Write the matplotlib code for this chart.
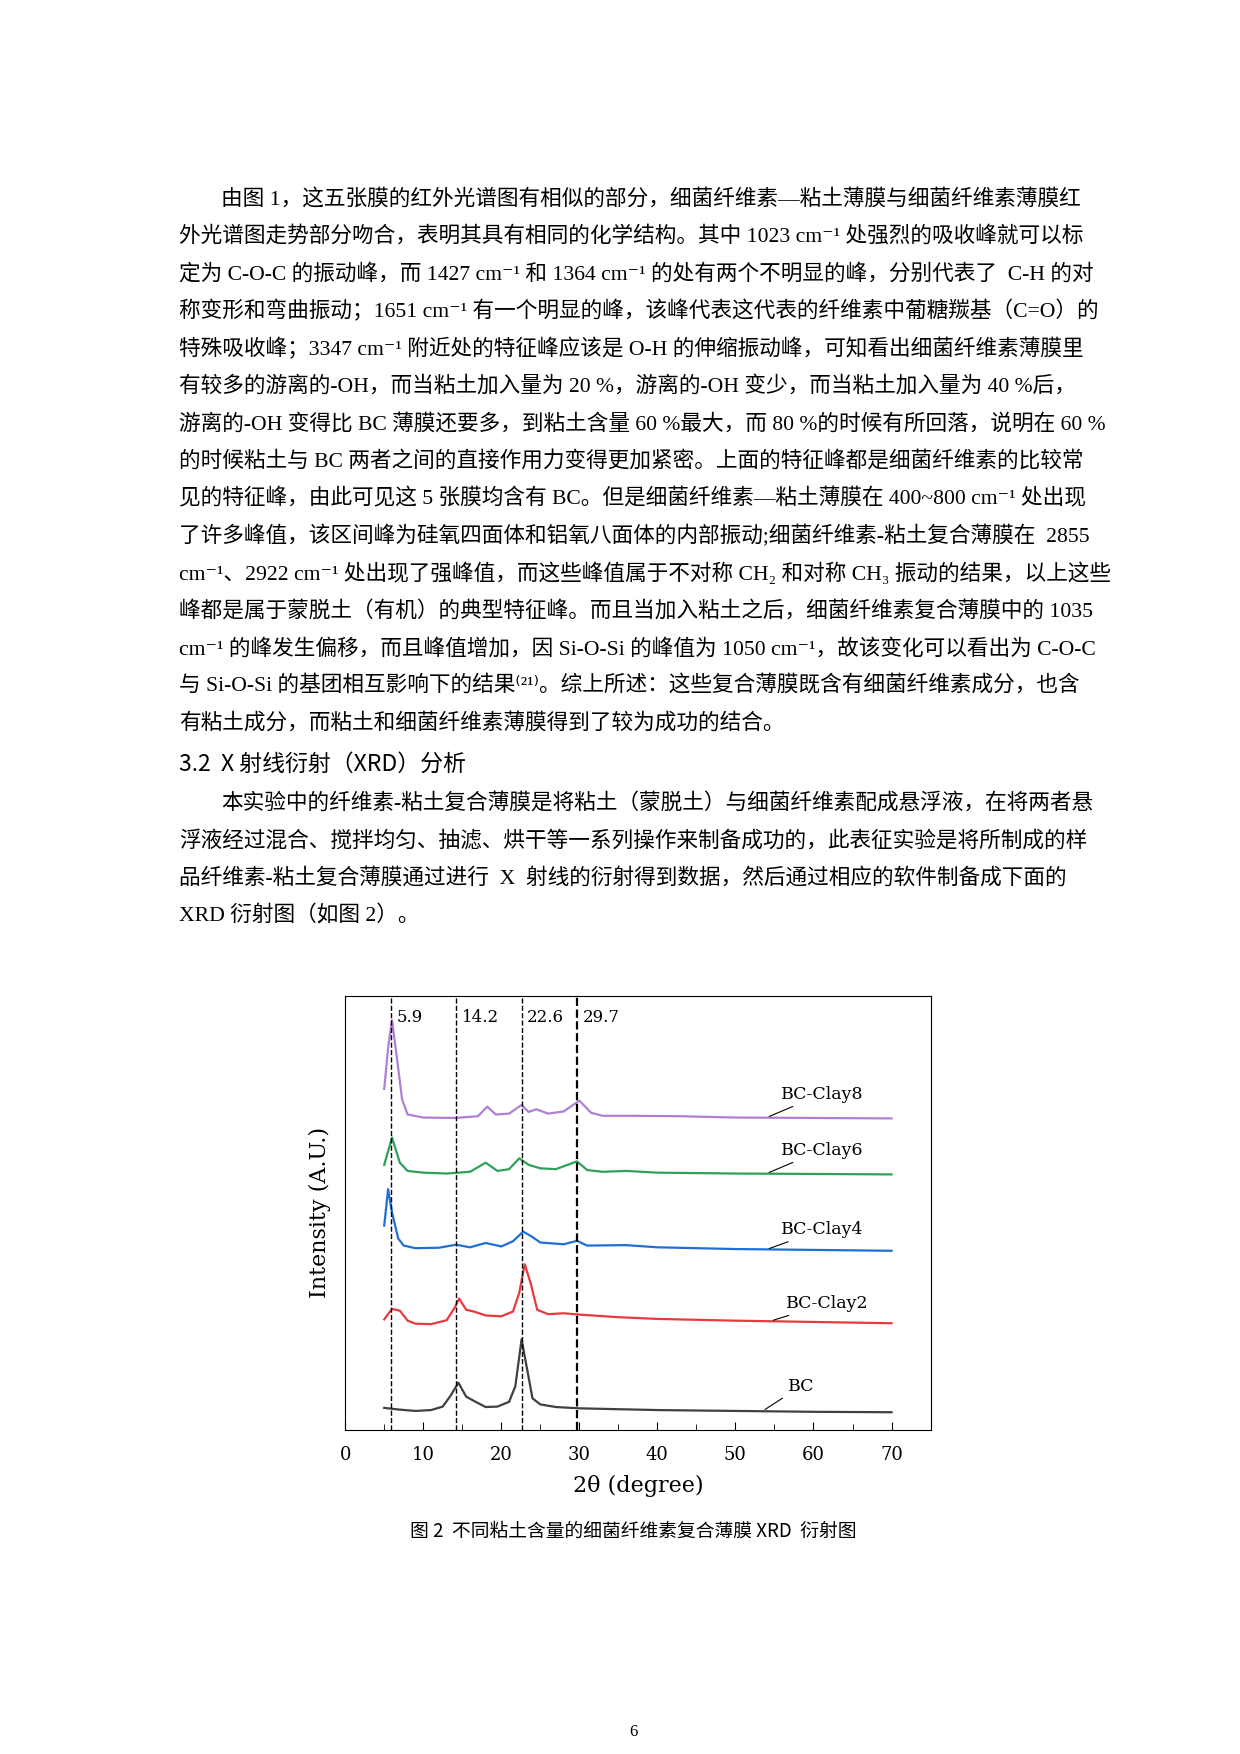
import matplotlib.pyplot as plt

plt.rcParams['font.family'] = ['Liberation Serif', 'Noto Sans CJK SC', 'DejaVu Sans']

# ---- page text ----
body_lines = [
    (True, "由图 1，这五张膜的红外光谱图有相似的部分，细菌纤维素—粘土薄膜与细菌纤维素薄膜红"),
    (False, "外光谱图走势部分吻合，表明其具有相同的化学结构。其中 1023 cm⁻¹ 处强烈的吸收峰就可以标"),
    (False, "定为 C-O-C 的振动峰，而 1427 cm⁻¹ 和 1364 cm⁻¹ 的处有两个不明显的峰，分别代表了  C-H 的对"),
    (False, "称变形和弯曲振动；1651 cm⁻¹ 有一个明显的峰，该峰代表这代表的纤维素中葡糖羰基（C=O）的"),
    (False, "特殊吸收峰；3347 cm⁻¹ 附近处的特征峰应该是 O-H 的伸缩振动峰，可知看出细菌纤维素薄膜里"),
    (False, "有较多的游离的-OH，而当粘土加入量为 20 %，游离的-OH 变少，而当粘土加入量为 40 %后，"),
    (False, "游离的-OH 变得比 BC 薄膜还要多，到粘土含量 60 %最大，而 80 %的时候有所回落，说明在 60 %"),
    (False, "的时候粘土与 BC 两者之间的直接作用力变得更加紧密。上面的特征峰都是细菌纤维素的比较常"),
    (False, "见的特征峰，由此可见这 5 张膜均含有 BC。但是细菌纤维素—粘土薄膜在 400~800 cm⁻¹ 处出现"),
    (False, "了许多峰值，该区间峰为硅氧四面体和铝氧八面体的内部振动;细菌纤维素-粘土复合薄膜在  2855"),
    (False, "cm⁻¹、2922 cm⁻¹ 处出现了强峰值，而这些峰值属于不对称 CH₂ 和对称 CH₃ 振动的结果，以上这些"),
    (False, "峰都是属于蒙脱土（有机）的典型特征峰。而且当加入粘土之后，细菌纤维素复合薄膜中的 1035"),
    (False, "cm⁻¹ 的峰发生偏移，而且峰值增加，因 Si-O-Si 的峰值为 1050 cm⁻¹，故该变化可以看出为 C-O-C"),
    (False, "与 Si-O-Si 的基团相互影响下的结果⁽²¹⁾。综上所述：这些复合薄膜既含有细菌纤维素成分，也含"),
    (False, "有粘土成分，而粘土和细菌纤维素薄膜得到了较为成功的结合。"),
]
heading = "3.2  X 射线衍射（XRD）分析"
body2_lines = [
    (True, "本实验中的纤维素-粘土复合薄膜是将粘土（蒙脱土）与细菌纤维素配成悬浮液，在将两者悬"),
    (False, "浮液经过混合、搅拌均匀、抽滤、烘干等一系列操作来制备成功的，此表征实验是将所制成的样"),
    (False, "品纤维素-粘土复合薄膜通过进行  X  射线的衍射得到数据，然后通过相应的软件制备成下面的"),
    (False, "XRD 衍射图（如图 2）。"),
]
caption = "图 2  不同粘土含量的细菌纤维素复合薄膜 XRD  衍射图"

# ---- XRD curves (2θ, relative intensity) ----
x_bc = [5, 7, 9, 11, 12.5, 13.5, 14.5, 15.5, 16.5, 18, 19.5, 21, 21.8, 22.6, 23.3, 24, 25, 27, 30, 35, 40, 50, 60, 70]
y_bc = [5.0, 4.6, 4.3, 4.5, 5.3, 7.8, 10.8, 7.6, 6.6, 5.2, 5.3, 6.4, 10.0, 20.8, 14.0, 7.2, 5.8, 5.2, 4.9, 4.7, 4.5, 4.3, 4.1, 4.0]
x_c2 = [5, 6, 7, 8, 9, 11, 13, 14, 14.6, 15.5, 16.5, 18, 20, 21.5, 22.3, 23, 23.8, 24.6, 26, 28, 30, 35, 40, 50, 60, 70]
y_c2 = [25.4, 27.8, 27.4, 25.1, 24.4, 24.3, 25.2, 28.0, 30.2, 27.6, 27.2, 26.3, 26.1, 27.2, 31.5, 38.1, 33.5, 27.6, 26.6, 26.8, 26.5, 25.9, 25.5, 25.1, 24.8, 24.5]
x_c4 = [5, 5.5, 6, 6.8, 7.5, 9, 12, 14.2, 16, 18, 20, 21.5, 22.8, 23.8, 25, 28, 29.7, 31, 36, 40, 50, 60, 70]
y_c4 = [47.0, 55.4, 50.0, 44.0, 42.4, 41.8, 41.9, 42.6, 42.0, 43.0, 42.2, 43.4, 45.6, 44.6, 43.1, 42.7, 43.5, 42.4, 42.5, 42.0, 41.6, 41.4, 41.2]
x_c6 = [5, 6, 7, 8, 10, 13, 16, 18, 19.5, 21, 22.3, 23.5, 25, 27, 29.7, 31, 33, 36, 40, 50, 60, 70]
y_c6 = [61.0, 67.3, 61.5, 59.6, 59.2, 59.0, 59.4, 61.5, 59.6, 60.0, 62.5, 61.0, 60.2, 60.0, 61.8, 59.8, 59.4, 59.6, 59.2, 59.0, 58.9, 58.8]
x_c8 = [5, 5.5, 6, 6.6, 7.3, 8, 10, 14, 17, 18.2, 19.3, 21, 22.6, 23.5, 24.5, 26, 28, 30, 31.5, 33, 37, 43, 50, 60, 70]
y_c8 = [78.5, 88.0, 94.3, 86.0, 76.0, 72.6, 71.9, 71.8, 72.2, 74.4, 72.6, 72.8, 74.8, 73.2, 73.8, 72.8, 73.3, 75.8, 73.0, 72.3, 72.3, 72.2, 71.9, 71.8, 71.7]

series = [
    ("BC", x_bc, y_bc, "#404040", (56.7, 10.0), (53.5, 4.3)),
    ("BC-Clay2", x_c2, y_c2, "#e8393c", (56.5, 29.1), (54.5, 25.0)),
    ("BC-Clay4", x_c4, y_c4, "#1f6fd6", (55.8, 46.1), (54.0, 41.5)),
    ("BC-Clay6", x_c6, y_c6, "#2ea05a", (55.8, 64.4), (54.0, 59.0)),
    ("BC-Clay8", x_c8, y_c8, "#b07fd6", (55.8, 77.3), (54.0, 71.9)),
]
peak_pos = [5.9, 14.2, 22.6, 29.7]
peak_labels = ["5.9", "14.2", "22.6", "29.7"]

fig = plt.figure(figsize=(12.4, 17.54), dpi=100)

W, H = 1110.0, 1568.0  # reference display coords
left_x, indent_x = 160, 198
y = 178
for first, line in body_lines:
    fig.text((indent_x if first else left_x) / W, 1 - y / H, line, fontsize=15.6, va="center")
    y += 33.5
fig.text(left_x / W, 1 - 683 / H, heading, fontsize=16.5, va="center",
         family=['Noto Sans CJK SC', 'DejaVu Sans'])
y = 718
for first, line in body2_lines:
    fig.text((indent_x if first else left_x) / W, 1 - y / H, line, fontsize=15.6, va="center")
    y += 33.5
fig.text(567 / W, 1 - 1369 / H, caption, fontsize=13.5, ha="center", va="center",
         family=['Noto Sans CJK SC', 'DejaVu Sans'])
fig.text(567 / W, 1 - 1548 / H, "6", fontsize=12, ha="center", va="center")

ax = fig.add_axes([309 / W, 1 - 1278 / H, (833 - 309) / W, (1278 - 890) / H])
for name, xs, ys, color, txt, tip in series:
    ax.plot(xs, ys, color=color, lw=1.6)
    ax.annotate(name, xy=tip, xytext=txt, fontsize=12.5, family="DejaVu Serif",
                va="center", ha="left",
                arrowprops=dict(arrowstyle="-", color="black", lw=0.8))
for i, (p, lab) in enumerate(zip(peak_pos, peak_labels)):
    ax.axvline(p, color="black", ls="--", lw=1.6 if i == 3 else 1.0)
    ax.text(p + 0.7, 95, lab, fontsize=12, family="DejaVu Serif", va="center")

ax.set_xlim(0, 75)
ax.set_ylim(0, 100)
ax.set_yticks([])
ax.set_xticks(range(0, 71, 10))
ax.set_xticks(range(5, 76, 10), minor=True)
ax.tick_params(axis="x", labelsize=13, length=6, direction="in", pad=12)
ax.tick_params(axis="x", which="minor", length=4, direction="in")
for lab in ax.get_xticklabels():
    lab.set_family("DejaVu Serif")
ax.set_xlabel("2θ (degree)", fontsize=16, family="DejaVu Serif", labelpad=8)
ax.set_ylabel("Intensity (A.U.)", fontsize=16, family="DejaVu Serif", labelpad=10)

fig.savefig("out.png", dpi=100)
